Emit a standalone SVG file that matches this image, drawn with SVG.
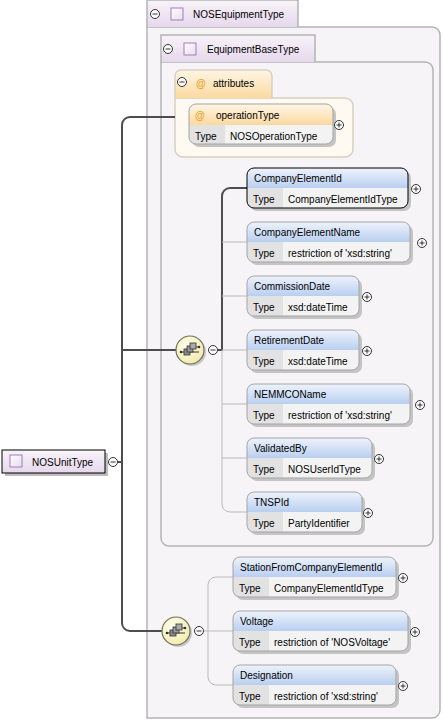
<svg xmlns="http://www.w3.org/2000/svg" width="443" height="720" viewBox="0 0 443 720">
<defs>
<linearGradient id="hdr" x1="0" y1="0" x2="0" y2="1"><stop offset="0" stop-color="#eef3fc"/><stop offset="1" stop-color="#b9cff0"/></linearGradient>
<linearGradient id="ahdr" x1="0" y1="0" x2="0" y2="1"><stop offset="0" stop-color="#fff6e6"/><stop offset="1" stop-color="#fbd9a0"/></linearGradient>
<linearGradient id="tab" x1="0" y1="0" x2="0" y2="1"><stop offset="0" stop-color="#f8f3f9"/><stop offset="1" stop-color="#e6d8ec"/></linearGradient>
<linearGradient id="sq" x1="0" y1="0" x2="1" y2="1"><stop offset="0" stop-color="#ffffff"/><stop offset="1" stop-color="#e8dcef"/></linearGradient>
<radialGradient id="seq" cx="0.4" cy="0.35" r="0.7"><stop offset="0" stop-color="#fffff0"/><stop offset="1" stop-color="#f1e9a8"/></radialGradient>
</defs>
<style>
text{font-family:"Liberation Sans",Arial,sans-serif;font-size:10px;fill:#000}
.shadow{fill:#c4c4c4}
.body{fill:#f3f3f3}
.tcell{fill:#e2e2e2}
.hdr{fill:url(#hdr)}
.bd{fill:none;stroke:#a4a4a4;stroke-width:1}
.bdk{fill:none;stroke:#000;stroke-width:1}
.sep{stroke:#cfcfcf;stroke-width:1}
.pm{fill:#fff;stroke:#333;stroke-width:1}
.pl{stroke:#333;stroke-width:1}
.sqi{fill:url(#sq);stroke:#a77bb8;stroke-width:1}
.conn-main{fill:none;stroke:#4d4d4d;stroke-width:2}
.conn{fill:none;stroke:#b9b9b9;stroke-width:1}
</style>

<!-- Outer container NOSEquipmentType -->
<g id="NOSEquipmentType">
<path d="M147,27 H432 A8,8 0 0 1 440,35 V710 A8,8 0 0 1 432,718 H147 Z" fill="#f7f4f8" stroke="#b4b4b4" stroke-width="1.5"/>
<path d="M147,27 V0 H298 V27" fill="url(#tab)" stroke="#b4b4b4" stroke-width="1.5"/>
<circle class="pm" cx="155" cy="14" r="4.5"/><line class="pl" x1="152.5" y1="14" x2="157.5" y2="14"/>
<rect class="sqi" x="171" y="8" width="12" height="12"/>
<text x="193" y="18">NOSEquipmentType</text>
</g>

<g id="EquipmentBaseType">
<path d="M161,62 H425 A8,8 0 0 1 433,70 V538 A8,8 0 0 1 425,546 H169 A8,8 0 0 1 161,538 Z" fill="#f7f4f8" stroke="#b4b4b4" stroke-width="1.5"/>
<path d="M161,62 V35 H315 V62" fill="url(#tab)" stroke="#b4b4b4" stroke-width="1.5"/>
<circle class="pm" cx="168" cy="49" r="4.5"/><line class="pl" x1="165.5" y1="49" x2="170.5" y2="49"/>
<rect class="sqi" x="184" y="43" width="12" height="12"/>
<text x="207" y="53">EquipmentBaseType</text>
</g>

<g id="attributes">
<path d="M175,98 H345 A8,8 0 0 1 353,106 V149 A8,8 0 0 1 345,157 H183 A8,8 0 0 1 175,149 Z" fill="#fffaf1" stroke="#d8cfc0" stroke-width="1.5"/>
<path d="M175,98 V76 A6,6 0 0 1 181,70 H266 A6,6 0 0 1 272,76 V98" fill="url(#ahdr)" stroke="#d8cfc0" stroke-width="1.5"/>
<circle class="pm" cx="182" cy="82" r="4.5"/><line class="pl" x1="179.5" y1="82" x2="184.5" y2="82"/>
<text x="196" y="87" style="fill:#f0a020;font-weight:bold">@</text>
<text x="213" y="87">attributes</text>
</g>

<g id="operationType" transform="translate(189,104)">
<rect class="shadow" x="3" y="3" width="144" height="40" rx="7"/>
<rect class="body" x="0" y="0" width="144" height="40" rx="7"/>
<path d="M0,21 V7 A7,7 0 0 1 7,0 H137 A7,7 0 0 1 144,7 V21 Z" fill="url(#ahdr)"/>
<path class="tcell" d="M0,21 H36 V40 H7 A7,7 0 0 1 0,33 Z"/>
<rect class="bd" x="0" y="0" width="144" height="40" rx="7"/>
<text x="6" y="15" style="fill:#f0a020;font-weight:bold">@</text>
<text x="27" y="15">operationType</text>
<text x="6" y="36">Type</text>
<text x="41" y="36">NOSOperationType</text>
<circle class="pm" cx="150" cy="21" r="4.5"/><line class="pl" x1="147.5" y1="21" x2="152.5" y2="21"/><line class="pl" x1="150" y1="18.5" x2="150" y2="23.5"/>
</g>

<!-- Connectors -->
<g id="connectors">
<path class="conn-main" d="M175,117 H130 A8,8 0 0 0 122,125 V623 A8,8 0 0 0 130,631 H162"/>
<path class="conn-main" d="M117.5,462 H122"/>
<path class="conn-main" d="M122,350 H176"/>
<path class="conn-main" d="M217.5,350 H222 V196 A8,8 0 0 1 230,188 H247"/>
<path class="conn" d="M222,350 V504 A8,8 0 0 0 230,512 H247"/>
<path class="conn" d="M222,242 H247 M222,296 H247 M222,350 H247 M222,404 H247 M222,458 H247"/>
<path class="conn" d="M203.5,631 H233 M208,631 V585 A8,8 0 0 1 216,577 H233 M208,631 V677 A8,8 0 0 0 216,685 H233"/>
</g>

<g id="NOSUnitType">
<rect x="5" y="453" width="103" height="23" fill="#bdbdbd"/>
<rect x="2" y="450" width="103" height="23" fill="url(#tab)" stroke="#000" stroke-width="1"/>
<rect class="sqi" x="10" y="455" width="12" height="12"/>
<text x="32" y="466">NOSUnitType</text>
<circle class="pm" cx="113" cy="462" r="4.5"/><line class="pl" x1="110.5" y1="462" x2="115.5" y2="462"/>
</g>

<g id="sequence1">
<circle cx="192" cy="352" r="14" fill="#c8c8c8"/>
<circle cx="190" cy="350" r="14" fill="url(#seq)" stroke="#6f6f5f" stroke-width="1.2"/>
<line x1="181" y1="352" x2="199" y2="352" stroke="#333" stroke-width="1"/>
<circle cx="181" cy="352" r="1.3" fill="#333"/><circle cx="199" cy="347" r="1.3" fill="#333"/>
<line x1="196" y1="347" x2="199" y2="347" stroke="#333" stroke-width="1"/>
<rect x="184" y="349" width="6" height="6" fill="#8a8a8a" stroke="#333" stroke-width="0.8"/>
<rect x="187" y="346" width="6" height="6" fill="#9a9a9a" stroke="#333" stroke-width="0.8"/>
<rect x="190" y="343" width="6" height="6" fill="#aaaaaa" stroke="#333" stroke-width="0.8"/>
<circle class="pm" cx="213" cy="350" r="4.5"/><line class="pl" x1="210.5" y1="350" x2="215.5" y2="350"/>
</g>

<g id="sequence2">
<circle cx="178" cy="633" r="14" fill="#c8c8c8"/>
<circle cx="176" cy="631" r="14" fill="url(#seq)" stroke="#6f6f5f" stroke-width="1.2"/>
<line x1="167" y1="633" x2="185" y2="633" stroke="#333" stroke-width="1"/>
<circle cx="167" cy="633" r="1.3" fill="#333"/><circle cx="185" cy="628" r="1.3" fill="#333"/>
<line x1="182" y1="628" x2="185" y2="628" stroke="#333" stroke-width="1"/>
<rect x="170" y="630" width="6" height="6" fill="#8a8a8a" stroke="#333" stroke-width="0.8"/>
<rect x="173" y="627" width="6" height="6" fill="#9a9a9a" stroke="#333" stroke-width="0.8"/>
<rect x="176" y="624" width="6" height="6" fill="#aaaaaa" stroke="#333" stroke-width="0.8"/>
<circle class="pm" cx="199" cy="631" r="4.5"/><line class="pl" x1="196.5" y1="631" x2="201.5" y2="631"/>
</g>

<g id="CompanyElementId" transform="translate(247,168)">
<rect class="shadow" x="3" y="3" width="161" height="40" rx="7"/>
<rect class="body" x="0" y="0" width="161" height="40" rx="7"/>
<path class="hdr" d="M0,20 V7 A7,7 0 0 1 7,0 H154 A7,7 0 0 1 161,7 V20 Z"/>
<path class="tcell" d="M0,20 H36 V40 H7 A7,7 0 0 1 0,33 Z"/>
<rect class="bdk" x="0" y="0" width="161" height="40" rx="7"/>
<text x="7" y="14">CompanyElementId</text>
<text x="6" y="35">Type</text>
<text x="41" y="35">CompanyElementIdType</text>
<circle class="pm" cx="169" cy="21" r="4.5"/><line class="pl" x1="166.5" y1="21" x2="171.5" y2="21"/><line class="pl" x1="169" y1="18.5" x2="169" y2="23.5"/>
</g>

<g id="CompanyElementName" transform="translate(247,222)">
<rect class="shadow" x="3" y="3" width="163" height="40" rx="7"/>
<rect class="body" x="0" y="0" width="163" height="40" rx="7"/>
<path class="hdr" d="M0,20 V7 A7,7 0 0 1 7,0 H156 A7,7 0 0 1 163,7 V20 Z"/>
<path class="tcell" d="M0,20 H36 V40 H7 A7,7 0 0 1 0,33 Z"/>
<rect class="bd" x="0" y="0" width="163" height="40" rx="7"/>
<text x="7" y="14">CompanyElementName</text>
<text x="6" y="35">Type</text>
<text x="41" y="35">restriction of 'xsd:string'</text>
<circle class="pm" cx="175" cy="21" r="4.5"/><line class="pl" x1="172.5" y1="21" x2="177.5" y2="21"/><line class="pl" x1="175" y1="18.5" x2="175" y2="23.5"/>
</g>

<g id="CommissionDate" transform="translate(247,276)">
<rect class="shadow" x="3" y="3" width="112" height="40" rx="7"/>
<rect class="body" x="0" y="0" width="112" height="40" rx="7"/>
<path class="hdr" d="M0,20 V7 A7,7 0 0 1 7,0 H105 A7,7 0 0 1 112,7 V20 Z"/>
<path class="tcell" d="M0,20 H36 V40 H7 A7,7 0 0 1 0,33 Z"/>
<rect class="bd" x="0" y="0" width="112" height="40" rx="7"/>
<text x="7" y="14">CommissionDate</text>
<text x="6" y="35">Type</text>
<text x="41" y="35">xsd:dateTime</text>
<circle class="pm" cx="120" cy="21" r="4.5"/><line class="pl" x1="117.5" y1="21" x2="122.5" y2="21"/><line class="pl" x1="120" y1="18.5" x2="120" y2="23.5"/>
</g>

<g id="RetirementDate" transform="translate(247,330)">
<rect class="shadow" x="3" y="3" width="112" height="40" rx="7"/>
<rect class="body" x="0" y="0" width="112" height="40" rx="7"/>
<path class="hdr" d="M0,20 V7 A7,7 0 0 1 7,0 H105 A7,7 0 0 1 112,7 V20 Z"/>
<path class="tcell" d="M0,20 H36 V40 H7 A7,7 0 0 1 0,33 Z"/>
<rect class="bd" x="0" y="0" width="112" height="40" rx="7"/>
<text x="7" y="14">RetirementDate</text>
<text x="6" y="35">Type</text>
<text x="41" y="35">xsd:dateTime</text>
<circle class="pm" cx="120" cy="21" r="4.5"/><line class="pl" x1="117.5" y1="21" x2="122.5" y2="21"/><line class="pl" x1="120" y1="18.5" x2="120" y2="23.5"/>
</g>

<g id="NEMMCOName" transform="translate(247,384)">
<rect class="shadow" x="3" y="3" width="163" height="40" rx="7"/>
<rect class="body" x="0" y="0" width="163" height="40" rx="7"/>
<path class="hdr" d="M0,20 V7 A7,7 0 0 1 7,0 H156 A7,7 0 0 1 163,7 V20 Z"/>
<path class="tcell" d="M0,20 H36 V40 H7 A7,7 0 0 1 0,33 Z"/>
<rect class="bd" x="0" y="0" width="163" height="40" rx="7"/>
<text x="7" y="14">NEMMCOName</text>
<text x="6" y="35">Type</text>
<text x="41" y="35">restriction of 'xsd:string'</text>
<circle class="pm" cx="173" cy="21" r="4.5"/><line class="pl" x1="170.5" y1="21" x2="175.5" y2="21"/><line class="pl" x1="173" y1="18.5" x2="173" y2="23.5"/>
</g>

<g id="ValidatedBy" transform="translate(247,438)">
<rect class="shadow" x="3" y="3" width="125" height="40" rx="7"/>
<rect class="body" x="0" y="0" width="125" height="40" rx="7"/>
<path class="hdr" d="M0,20 V7 A7,7 0 0 1 7,0 H118 A7,7 0 0 1 125,7 V20 Z"/>
<path class="tcell" d="M0,20 H36 V40 H7 A7,7 0 0 1 0,33 Z"/>
<rect class="bd" x="0" y="0" width="125" height="40" rx="7"/>
<text x="7" y="14">ValidatedBy</text>
<text x="6" y="35">Type</text>
<text x="41" y="35">NOSUserIdType</text>
<circle class="pm" cx="132" cy="21" r="4.5"/><line class="pl" x1="129.5" y1="21" x2="134.5" y2="21"/><line class="pl" x1="132" y1="18.5" x2="132" y2="23.5"/>
</g>

<g id="TNSPId" transform="translate(247,492)">
<rect class="shadow" x="3" y="3" width="115" height="40" rx="7"/>
<rect class="body" x="0" y="0" width="115" height="40" rx="7"/>
<path class="hdr" d="M0,20 V7 A7,7 0 0 1 7,0 H108 A7,7 0 0 1 115,7 V20 Z"/>
<path class="tcell" d="M0,20 H36 V40 H7 A7,7 0 0 1 0,33 Z"/>
<rect class="bd" x="0" y="0" width="115" height="40" rx="7"/>
<text x="7" y="14">TNSPId</text>
<text x="6" y="35">Type</text>
<text x="41" y="35">PartyIdentifier</text>
<circle class="pm" cx="121" cy="21" r="4.5"/><line class="pl" x1="118.5" y1="21" x2="123.5" y2="21"/><line class="pl" x1="121" y1="18.5" x2="121" y2="23.5"/>
</g>

<g id="StationFromCompanyElementId" transform="translate(233,557)">
<rect class="shadow" x="3" y="3" width="163" height="40" rx="7"/>
<rect class="body" x="0" y="0" width="163" height="40" rx="7"/>
<path class="hdr" d="M0,20 V7 A7,7 0 0 1 7,0 H156 A7,7 0 0 1 163,7 V20 Z"/>
<path class="tcell" d="M0,20 H36 V40 H7 A7,7 0 0 1 0,33 Z"/>
<rect class="bd" x="0" y="0" width="163" height="40" rx="7"/>
<text x="7" y="14">StationFromCompanyElementId</text>
<text x="6" y="35">Type</text>
<text x="41" y="35">CompanyElementIdType</text>
<circle class="pm" cx="170" cy="21" r="4.5"/><line class="pl" x1="167.5" y1="21" x2="172.5" y2="21"/><line class="pl" x1="170" y1="18.5" x2="170" y2="23.5"/>
</g>

<g id="Voltage" transform="translate(233,611)">
<rect class="shadow" x="3" y="3" width="175" height="40" rx="7"/>
<rect class="body" x="0" y="0" width="175" height="40" rx="7"/>
<path class="hdr" d="M0,20 V7 A7,7 0 0 1 7,0 H168 A7,7 0 0 1 175,7 V20 Z"/>
<path class="tcell" d="M0,20 H36 V40 H7 A7,7 0 0 1 0,33 Z"/>
<rect class="bd" x="0" y="0" width="175" height="40" rx="7"/>
<text x="7" y="14">Voltage</text>
<text x="6" y="35">Type</text>
<text x="41" y="35">restriction of 'NOSVoltage'</text>
<circle class="pm" cx="182" cy="21" r="4.5"/><line class="pl" x1="179.5" y1="21" x2="184.5" y2="21"/><line class="pl" x1="182" y1="18.5" x2="182" y2="23.5"/>
</g>

<g id="Designation" transform="translate(233,665)">
<rect class="shadow" x="3" y="3" width="163" height="40" rx="7"/>
<rect class="body" x="0" y="0" width="163" height="40" rx="7"/>
<path class="hdr" d="M0,20 V7 A7,7 0 0 1 7,0 H156 A7,7 0 0 1 163,7 V20 Z"/>
<path class="tcell" d="M0,20 H36 V40 H7 A7,7 0 0 1 0,33 Z"/>
<rect class="bd" x="0" y="0" width="163" height="40" rx="7"/>
<text x="7" y="14">Designation</text>
<text x="6" y="35">Type</text>
<text x="41" y="35">restriction of 'xsd:string'</text>
<circle class="pm" cx="170" cy="21" r="4.5"/><line class="pl" x1="167.5" y1="21" x2="172.5" y2="21"/><line class="pl" x1="170" y1="18.5" x2="170" y2="23.5"/>
</g>
</svg>
